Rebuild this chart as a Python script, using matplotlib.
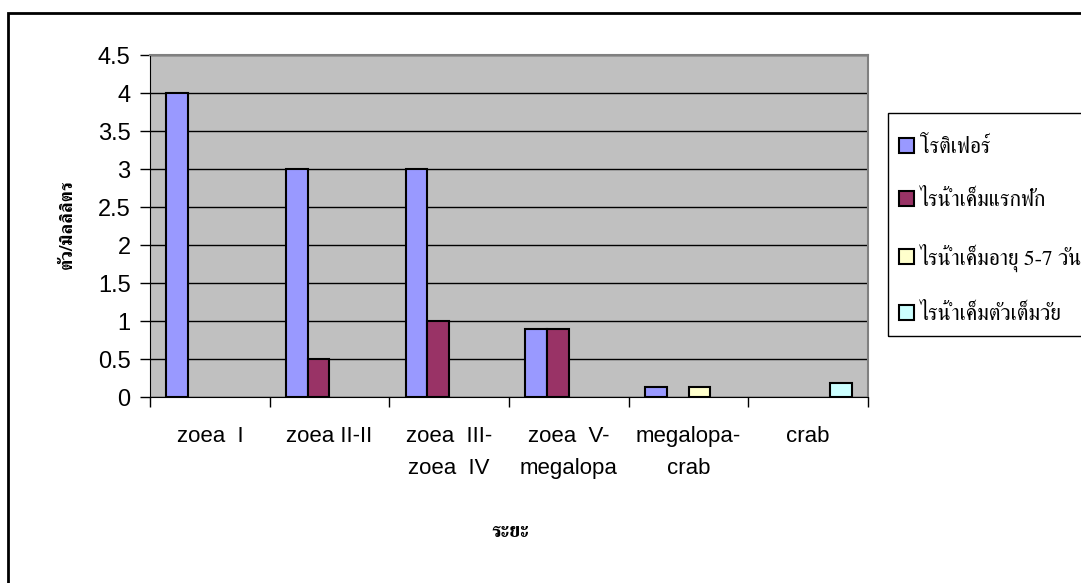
import matplotlib
matplotlib.use("Agg")
from matplotlib import pyplot as plt
from matplotlib import font_manager
from matplotlib.ft2font import FT2Font
from matplotlib.patches import Rectangle
import numpy as np

categories = ["zoea  I", "zoea II-II", "zoea  III-\nzoea  IV", "zoea  V-\nmegalopa",
              "megalopa-\ncrab", "crab"]
series_names = ["โรติเฟอร์", "ไรน้ำเค็มแรกฟัก", "ไรน้ำเค็มอายุ 5-7 วัน", "ไรน้ำเค็มตัวเต็มวัย"]
rotifer = [4, 3, 3, 0.9, 0.13, 0]
artemia_hatched = [0, 0.5, 1, 0.9, 0, 0]
artemia_5_7d = [0, 0, 0, 0, 0.13, 0]
artemia_adult = [0, 0, 0, 0, 0, 0.18]
yticks = [0, 0.5, 1, 1.5, 2, 2.5, 3, 3.5, 4, 4.5]
ylabel = "ตัว/มิลลิลิตร"
xlabel = "ระยะ"

colors = ["#9999FF", "#993366", "#FFFFCC", "#CCFFFF"]


# pick an installed font that actually has Thai glyphs, serif first
def thai_fonts():
    found = []
    for f in font_manager.fontManager.ttflist:
        try:
            if 0x0E44 in FT2Font(f.fname).get_charmap():
                found.append(f.name)
        except Exception:
            pass
    found = sorted(set(found), key=lambda n: (0 if "Serif" in n else 1, n))
    return found


thai_serif = thai_fonts() + ["DejaVu Sans"]

W, H = 1081, 583
fig = plt.figure(figsize=(W / 100, H / 100), dpi=100)

# outer chart border (only the top and left edges fall inside the picture)
top = 1 - 13 / H
fig.patches.append(Rectangle((8 / W, -1), 2, top + 1, transform=fig.transFigure,
                             fill=False, edgecolor="black", linewidth=2, zorder=-1))

# legend box, runs off the right edge; drawn under the legend entries
fig.patches.append(Rectangle((888 / W, 1 - 336 / H), 1, 223 / H, transform=fig.transFigure,
                             fill=False, edgecolor="black", linewidth=1, zorder=-1))

ax = fig.add_axes([150 / W, 1 - 397 / H, 718 / W, 342 / H])
ax.set_facecolor("#C0C0C0")

series = [rotifer, artemia_hatched, artemia_5_7d, artemia_adult]
w = 1 / 5.5
x = np.arange(len(categories))
for j, vals in enumerate(series):
    vals = np.array(vals, dtype=float)
    xs = x + 0.75 * w + (j + 0.5) * w
    keep = vals > 0
    # zero values get no bar at all, only a legend entry
    ax.bar(xs[keep], vals[keep], width=w, color=colors[j],
           edgecolor="black", linewidth=1.5, label=series_names[j], zorder=3)

ax.set_xlim(0, len(categories))
ax.set_ylim(0, 4.5)
ax.set_yticks(yticks)
ax.set_yticklabels([f"{v:g}" for v in yticks], fontfamily="Liberation Sans", fontsize=17)
ax.yaxis.grid(True, color="black", linewidth=1, zorder=1)
ax.set_axisbelow(True)
ax.tick_params(axis="y", length=7, width=1, pad=7)

ax.set_xticks(np.arange(len(categories) + 1))
ax.set_xticklabels([])
ax.set_xticks(x + 0.5, minor=True)
ax.set_xticklabels(categories, minor=True, fontfamily="Liberation Sans", fontsize=16,
                   linespacing=1.7)
ax.tick_params(axis="x", which="major", length=7, width=1)
ax.tick_params(axis="x", which="minor", length=0, pad=21)

for side in ["top", "right"]:
    ax.spines[side].set_color("#808080")
    ax.spines[side].set_linewidth(1.5)
for side in ["left", "bottom"]:
    ax.spines[side].set_color("black")

fig.text(67 / W, 1 - 224 / H, ylabel, rotation=90, ha="center", va="center",
         fontsize=13.5, fontweight="bold", family=thai_serif)
fig.text(510 / W, 1 - 532 / H, xlabel, ha="center", va="center",
         fontsize=14.5, fontweight="bold", family=thai_serif)

leg = ax.legend(loc="upper left", bbox_to_anchor=(888 / W, 1 - 126 / H),
                bbox_transform=fig.transFigure, frameon=False, borderaxespad=0,
                prop={"family": thai_serif, "size": 15.5},
                handlelength=0.72, handleheight=0.72, handletextpad=0.25,
                labelspacing=1.5, borderpad=0.5)

plt.savefig("out.png", dpi=100)
